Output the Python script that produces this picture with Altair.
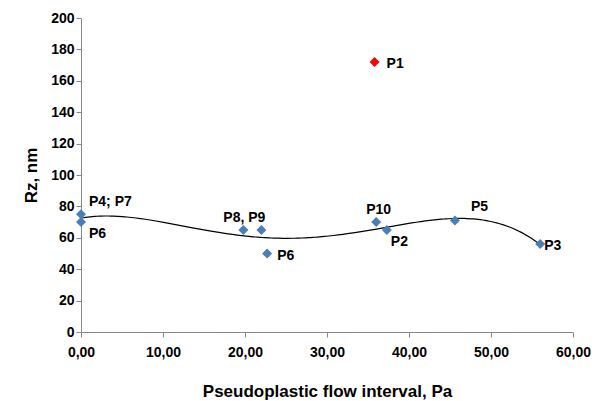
import altair as alt
import pandas as pd

names = ["P4; P7", "P6", "P8, P9", "", "P6", "P10", "P2", "P5", "P3"]
flow = [0.0, 0.0, 19.8, 22.0, 22.7, 36.0, 37.3, 45.6, 56.0]
rz = [75, 70, 65, 65, 50, 70, 65, 71, 56]
label_dx = [8, 8, -20, 0, 10, -10, 4, 16, 4]
label_dy = [-12, 12, -12, 0, 2, -12, 12, -14, 2]

p1_flow = [35.8]
p1_rz = [172]

df = pd.DataFrame({"name": names, "flow": flow, "rz": rz})
df_p1 = pd.DataFrame({"name": ["P1"], "flow": p1_flow, "rz": p1_rz})

x_scale = alt.Scale(domain=[0, 60], nice=False)
y_scale = alt.Scale(domain=[0, 200], nice=False)
x_axis = alt.Axis(values=list(range(0, 61, 10)), grid=False, labelExpr="replace(format(datum.value, '.2f'), '.', ',')",
                  labelPadding=8, titlePadding=24, labelOverlap=False, labelFlush=False)
y_axis = alt.Axis(values=list(range(0, 201, 20)), grid=False, titlePadding=10, labelOverlap=False, labelFlush=False)

X = alt.X("flow:Q", scale=x_scale, axis=x_axis, title="Pseudoplastic flow interval, Pa")
Y = alt.Y("rz:Q", scale=y_scale, axis=y_axis, title="Rz, nm")

base = alt.Chart(df)

trend = base.transform_regression("flow", "rz", method="poly", order=4, extent=[0, 56]).mark_line(
    color="black", strokeWidth=1.2
).encode(x=X, y=Y)

points = base.mark_point(shape="diamond", filled=True, size=100, color="#4a7ebb", opacity=1).encode(x=X, y=Y)

labels = []
for i in range(len(names)):
    if names[i]:
        labels.append(alt.Chart(df.iloc[[i]]).mark_text(
            fontWeight="bold", fontSize=14, font="Liberation Sans", align="left",
            dx=int(label_dx[i]), dy=int(label_dy[i])
        ).encode(x=X, y=Y, text="name:N"))

p1 = alt.Chart(df_p1).mark_point(shape="diamond", filled=True, size=100, color="#ff0000", opacity=1).encode(x=X, y=Y)
p1_text = alt.Chart(df_p1).mark_text(fontWeight="bold", fontSize=14, font="Liberation Sans", align="left", dx=12, dy=2).encode(
    x=X, y=Y, text="name:N"
)

chart = alt.layer(trend, points, p1, p1_text, *labels).properties(
    width=492, height=314, background="white",
    padding={"left": 14, "top": 3, "right": 0, "bottom": 5}
).configure_axis(
    labelFont="Liberation Sans", titleFont="Liberation Sans", labelFontSize=14, titleFontSize=17,
    labelFontWeight="bold", titleFontWeight="bold", labelColor="black", titleColor="black",
    domainColor="#888", tickColor="#888"
).configure_view(stroke=None)

chart.save("out.html", embed_options={"renderer": "svg", "actions": False})
